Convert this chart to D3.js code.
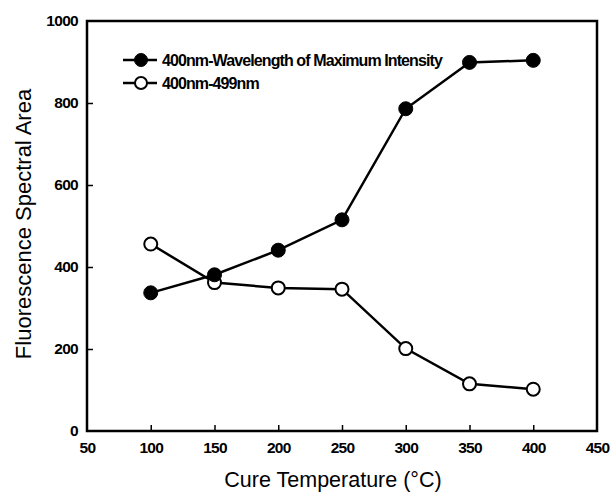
<!DOCTYPE html>
<html>
<head>
<meta charset="utf-8">
<script src="https://cdn.jsdelivr.net/npm/d3@7"></script>
<style>
  body { margin: 0; background: #fff; }
  svg { display: block; }
</style>
</head>
<body>
<div id="chart"></div>
<script>
var temps = [100, 150, 200, 250, 300, 350, 400];
var maxIntensity = [337, 381, 441, 515, 786, 899, 904];
var band400to499 = [456, 362, 349, 346, 201, 115, 102];
var xTicks = [50, 100, 150, 200, 250, 300, 350, 400, 450];
var yTicks = [0, 200, 400, 600, 800, 1000];
var seriesNames = ['400nm-Wavelength of Maximum Intensity', '400nm-499nm'];

var font = '"Liberation Sans", Arial, sans-serif';
var width = 611, height = 493;
var margin = { top: 21, right: 14, bottom: 62, left: 87 };
var chartW = width - margin.left - margin.right, chartH = height - margin.top - margin.bottom;

var x = d3.scaleLinear().domain([50, 450]).range([0, chartW]);
var y = d3.scaleLinear().domain([0, 1000]).range([chartH, 0]);

var svg = d3.select('#chart').append('svg')
    .attr('width', width)
    .attr('height', height);
var g = svg.append('g')
    .attr('transform', 'translate(' + margin.left + ',' + margin.top + ')');

// frame
g.append('rect')
    .attr('width', chartW)
    .attr('height', chartH)
    .attr('fill', 'none')
    .attr('stroke', '#000')
    .attr('stroke-width', 2.5);

// axes with inward ticks
var xAxis = d3.axisBottom(x).tickValues(xTicks).tickFormat(d3.format('d'))
    .tickSizeInner(-6).tickSizeOuter(0).tickPadding(11);
var yAxis = d3.axisLeft(y).tickValues(yTicks).tickFormat(d3.format('d'))
    .tickSizeInner(-6).tickSizeOuter(0).tickPadding(9);

var gx = g.append('g').attr('transform', 'translate(0,' + chartH + ')').call(xAxis);
var gy = g.append('g').call(yAxis);
[gx, gy].forEach(function (ax) {
    ax.select('.domain').remove();
    ax.selectAll('.tick line').attr('stroke', '#000').attr('stroke-width', 1.5);
    ax.selectAll('.tick text')
        .attr('fill', '#000')
        .style('font-family', font)
        .style('font-weight', 'bold')
        .style('font-size', '15.5px')
        .style('letter-spacing', '-0.7px');
});
gx.selectAll('.tick').filter(function (d) { return d === 50 || d === 450; }).select('line').remove();
gy.selectAll('.tick').filter(function (d) { return d === 0 || d === 1000; }).select('line').remove();

// axis titles
g.append('text')
    .attr('x', chartW / 2 - 9)
    .attr('y', chartH + 56)
    .attr('text-anchor', 'middle')
    .style('font-family', font)
    .style('font-size', '21.5px')
    .text('Cure Temperature (\u00B0C)');
g.append('text')
    .attr('transform', 'translate(' + (-56) + ',' + (chartH / 2 - 2) + ') rotate(-90)')
    .attr('text-anchor', 'middle')
    .style('font-family', font)
    .style('font-size', '22px')
    .text('Fluorescence Spectral Area');

var line = d3.line()
    .x(function (d) { return x(d[0]); })
    .y(function (d) { return y(d[1]); });

function drawSeries(values, filled) {
    var pts = temps.map(function (t, i) { return [t, values[i]]; });
    g.append('path')
        .datum(pts)
        .attr('d', line)
        .attr('fill', 'none')
        .attr('stroke', '#000')
        .attr('stroke-width', 2.5);
    g.selectAll(null)
        .data(pts)
        .enter().append('circle')
        .attr('cx', function (d) { return x(d[0]); })
        .attr('cy', function (d) { return y(d[1]); })
        .attr('r', filled ? 7 : 6.5)
        .attr('fill', filled ? '#000' : '#fff')
        .attr('stroke', '#000')
        .attr('stroke-width', filled ? 1 : 2);
}
drawSeries(band400to499, false);
drawSeries(maxIntensity, true);

// legend
var legend = g.append('g').attr('transform', 'translate(36, 39)');
seriesNames.forEach(function (name, i) {
    var row = legend.append('g').attr('transform', 'translate(0,' + (i * 23) + ')');
    row.append('line')
        .attr('x1', 0).attr('x2', 34)
        .attr('stroke', '#000').attr('stroke-width', 2.5);
    row.append('circle')
        .attr('cx', 18).attr('cy', 0)
        .attr('r', i === 0 ? 6.5 : 6)
        .attr('fill', i === 0 ? '#000' : '#fff')
        .attr('stroke', '#000')
        .attr('stroke-width', i === 0 ? 1 : 2);
    row.append('text')
        .attr('x', 39)
        .attr('y', 6)
        .style('font-family', font)
        .style('font-weight', 'bold')
        .style('font-size', '16px')
        .style('letter-spacing', '-0.9px')
        .text(name);
});
</script>
</body>
</html>
